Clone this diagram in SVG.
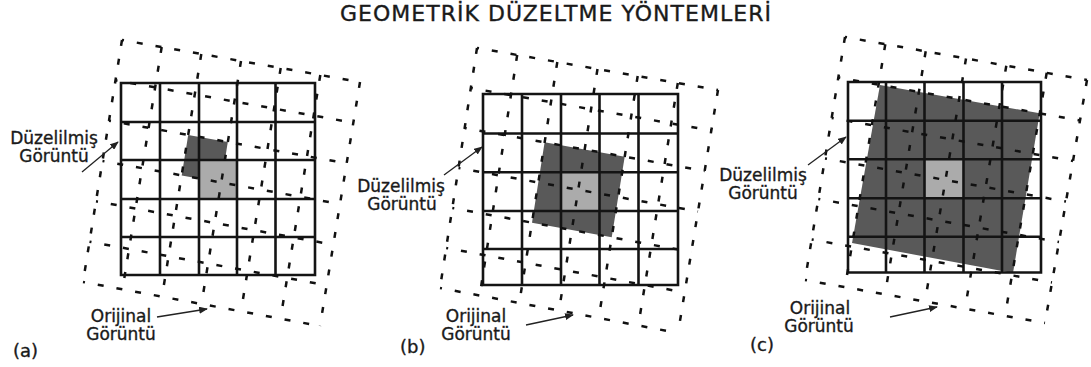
<svg xmlns="http://www.w3.org/2000/svg" width="1091" height="367" viewBox="0 0 1091 367">
<defs>
<style>
.txt{font-family:"DejaVu Sans","Liberation Sans",sans-serif;fill:#1a1a1a;stroke:#1a1a1a;stroke-width:0.35}
.lbl{font-size:17px;text-anchor:middle}
.grid{fill:none;stroke:#141414;stroke-width:2.6;stroke-linecap:square}
.dash{fill:none;stroke:#111;stroke-width:2.5;stroke-dasharray:6 13}
.dark{fill:#595959}
.light{fill:#ababab}
.arr{fill:none;stroke:#222;stroke-width:1.3;marker-end:url(#ah)}
</style>
<marker id="ah" viewBox="0 0 10 8" refX="9" refY="4" markerWidth="9" markerHeight="7" markerUnits="userSpaceOnUse" orient="auto">
<path d="M0,0 L10,4 L0,8 Z" fill="#222"/>
</marker>
</defs>
<rect width="1091" height="367" fill="#fff"/>
<g id="title">
<text class="txt" x="340" y="20.5" font-size="22" textLength="431" lengthAdjust="spacing">GEOMETRİK DÜZELTME YÖNTEMLERİ</text>
</g>

<g id="panel-a">
<polygon class="dark" points="188.2,134.9 227.8,142 221.3,182.5 181.7,175.4"/>
<rect class="light" x="199" y="160" width="38" height="39"/>
<path class="grid" d="M121 83V275M160 83V275M199 83V275M237 83V275M275.5 83V275M315 83V275M121 83H315M121 122H315M121 160H315M121 199H315M121 237H315M121 275H315"/>
<path class="dash" d="M122 40L83 282M161.7 47L122.5 289.3M201.3 54L162 296.7M241 61L201.5 304M280.7 68L241 311.3M320.3 75L280.5 318.7M360 82L320 326"/>
<path class="dash" style="stroke-dashoffset:4" d="M122 40L360 82M115.5 80.3L353.3 122.7M109 120.7L346.7 163.3M102.5 161L340 204M96 201.3L333.3 244.7M89.5 241.7L326.7 285.3M83 282L320 326"/>
<text class="txt lbl"><tspan x="54" y="144">Düzelilmiş</tspan><tspan x="54" y="162">Görüntü</tspan></text>
<text class="txt lbl"><tspan x="121" y="322">Orijinal</tspan><tspan x="121" y="340">Görüntü</tspan></text>
<text class="txt" x="13" y="357" font-size="18">(a)</text>
</g>

<g id="panel-b">
<polygon class="dark" points="544.6,142.3 624.7,156.7 611.7,237.3 532,222.7"/>
<rect class="light" x="561" y="172.3" width="38.5" height="38.7"/>
<path class="grid" d="M483 94V285M522 94V285M561 94V285M599.5 94V285M638.5 94V285M678 94V285M483 94H678M483 133.5H678M483 172.3H678M483 211H678M483 249H678M483 285H678"/>
<path class="dash" d="M477 48L440 288M517.2 55L479.7 295.5M557.3 62L519.3 303M597.5 69L559 310.5M637.7 76L598.7 318M677.8 83L638.3 325.5M718 90L678 333"/>
<path class="dash" style="stroke-dashoffset:4" d="M477 48L718 90M470.8 88L711.3 130.5M464.7 128L704.7 171M458.5 168L698 211.5M452.3 208L691.3 252M446.2 248L684.7 292.5M440 288L678 333"/>
<text class="txt lbl"><tspan x="401" y="192">Düzelilmiş</tspan><tspan x="402" y="210">Görüntü</tspan></text>
<text class="txt lbl"><tspan x="476" y="322">Orijinal</tspan><tspan x="476" y="340">Görüntü</tspan></text>
<text class="txt" x="400" y="353" font-size="18">(b)</text>
</g>

<g id="panel-c">
<polygon class="dark" points="880,85 1039.7,113.3 1013,273 852,243"/>
<rect class="light" x="924.5" y="159.3" width="39" height="39"/>
<path class="grid" d="M848 82V272.5M886 82V272.5M924.5 82V272.5M963.5 82V272.5M1002 82V272.5M1041 82V272.5M848 82H1041M848 120.7H1041M848 159.3H1041M848 198.3H1041M848 236.7H1041M848 272.5H1041"/>
<path class="dash" d="M845 37L805 280M885.3 44.2L845 287.2M925.7 51.3L885 294.3M966 58.5L925 301.5M1006.3 65.7L965 308.7M1046.7 72.8L1005 315.8M1087 80L1045 323"/>
<path class="dash" style="stroke-dashoffset:4" d="M845 37L1087 80M838.3 77.5L1080 120.5M831.7 118L1073 161M825 158.5L1066 201.5M818.3 199L1059 242M811.7 239.5L1052 282.5M805 280L1045 323"/>
<text class="txt lbl"><tspan x="763" y="181">Düzelilmiş</tspan><tspan x="763" y="199">Görüntü</tspan></text>
<text class="txt lbl"><tspan x="820" y="314">Orijinal</tspan><tspan x="819" y="332">Görüntü</tspan></text>
<text class="txt" x="750" y="351" font-size="18">(c)</text>
</g>

<g id="connectors">
<path class="arr" d="M82 172L118 142"/>
<path class="arr" d="M157 317L207 309"/>
<path class="arr" d="M444 175L482 147"/>
<path class="arr" d="M526 325L573 315"/>
<path class="arr" d="M808 165L846 137"/>
<path class="arr" d="M890 317L937 307"/>
</g>
</svg>
